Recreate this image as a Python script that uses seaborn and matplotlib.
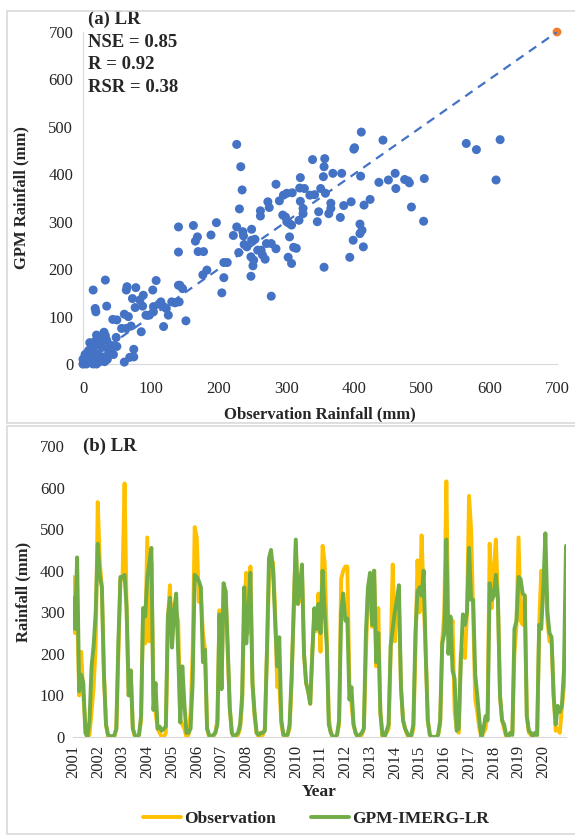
import matplotlib
matplotlib.use("Agg")
import pandas as pd
import seaborn as sns
import matplotlib.pyplot as plt
from matplotlib.patches import Rectangle
from matplotlib.lines import Line2D

# ---- scatter data: observation vs GPM (mm) ----
OBS_X = [
    411, 443, 566, 616, 581, 400, 401, 227, 233, 235, 339, 357, 356, 355, 369, 382,
    410, 461, 437, 451, 462, 475, 480, 482, 504, 610, 424, 396, 385, 415, 380, 485,
    503, 409, 412, 409, 399, 414, 394, 356, 346, 348, 363, 366, 366, 351, 358, 335,
    342, 321, 320, 327, 321, 325, 325, 319, 309, 301, 296, 290, 285, 273, 275, 262,
    262, 295, 299, 301, 304, 308, 305, 303, 308, 311, 315, 278, 285, 271, 263, 258,
    265, 269, 248, 252, 251, 248, 278, 249, 236, 237, 227, 222, 231, 238, 242, 249,
    254, 230, 208, 213, 208, 205, 197, 189, 163, 169, 166, 170, 178, 141, 141, 183,
    177, 131, 142, 136, 141, 143, 147, 152, 126, 123, 119, 112, 115, 108, 103, 104,
    104, 98, 93, 119, 89, 84, 88, 78, 73, 77, 65, 64, 61, 67, 71, 86,
    57, 64, 50, 44, 49, 50, 44, 33, 15, 18, 19, 35, 75, 75, 69, 61,
    31, 20,
    0, 2, 5, 3, 8, 10, 12, 15, 18, 20, 22, 25, 28, 30, 35, 38,
    40, 5, 0, 1, 15, 20, 25, 30, 10, 12, 33, 27, 22, 18, 40, 45,
    8, 6, 14, 3, 32, 36,
]
GPM_Y = [
    489, 472, 465, 473, 452, 453, 456, 463, 416, 367, 431, 433, 416, 395, 402, 402,
    396, 402, 383, 388, 370, 389, 386, 382, 391, 388, 347, 342, 334, 335, 309, 331,
    301, 295, 282, 275, 261, 247, 225, 204, 300, 321, 317, 339, 328, 370, 360, 356,
    357, 393, 371, 370, 343, 328, 317, 303, 361, 360, 356, 344, 379, 342, 330, 323,
    312, 314, 310, 300, 297, 293, 268, 225, 212, 246, 244, 254, 243, 254, 240, 240,
    230, 221, 226, 219, 207, 185, 143, 284, 279, 270, 289, 271, 327, 252, 247, 261,
    263, 235, 214, 214, 182, 150, 298, 272, 292, 268, 259, 237, 237, 289, 236, 198,
    188, 131, 131, 129, 166, 166, 159, 91, 103, 117, 121, 126, 131, 176, 156, 121,
    110, 103, 103, 79, 145, 135, 122, 161, 138, 119, 163, 156, 105, 100, 80, 68,
    75, 75, 93, 94, 56, 37, 37, 177, 156, 117, 110, 122, 31, 15, 14, 4,
    67, 61,
    0, 5, 10, 20, 15, 5, 25, 30, 10, 40, 20, 45, 35, 15, 50, 25,
    40, 0, 10, 2, 0, 0, 5, 50, 45, 35, 60, 58, 55, 48, 30, 20,
    28, 18, 12, 8, 5, 10,
]
ONE_TO_ONE = [0, 700]

# ---- monthly series 2001-01 .. 2020-12 (mm) ----
YEARS = list(range(2001, 2021))
OBS_MONTHLY = [
    385, 250, 300, 100, 205, 100, 30, 0, 5, 60, 120, 220,      # 2001
    565, 420, 360, 150, 30, 0, 0, 0, 0, 20, 200, 380,          # 2002
    380, 610, 300, 100, 160, 20, 0, 0, 5, 40, 310, 225,        # 2003
    480, 230, 420, 100, 60, 20, 10, 0, 0, 10, 280, 365,        # 2004
    230, 320, 300, 280, 40, 30, 20, 0, 5, 60, 200, 505,        # 2005
    480, 325, 340, 250, 210, 20, 0, 0, 0, 10, 40, 305,         # 2006
    120, 360, 350, 200, 70, 10, 0, 0, 5, 20, 80, 300,          # 2007
    395, 250, 410, 130, 50, 10, 0, 0, 5, 20, 200, 380,         # 2008
    400, 420, 300, 120, 130, 30, 5, 0, 5, 20, 130, 320,        # 2009
    460, 320, 330, 400, 200, 130, 110, 80, 200, 300, 255, 345, # 2010
    205, 460, 420, 250, 50, 10, 0, 0, 5, 30, 380, 400,         # 2011
    410, 410, 130, 80, 30, 10, 0, 0, 5, 20, 200, 350,          # 2012
    380, 265, 400, 170, 310, 60, 0, 0, 10, 20, 200, 415,       # 2013
    230, 330, 320, 120, 40, 20, 5, 0, 0, 20, 200, 425,         # 2014
    300, 485, 330, 200, 40, 5, 0, 0, 0, 5, 30, 230,            # 2015
    300, 615, 250, 230, 280, 60, 20, 10, 200, 210, 190, 300,   # 2016
    580, 500, 300, 90, 60, 20, 0, 10, 20, 60, 465, 310,        # 2017
    400, 475, 330, 100, 40, 20, 0, 0, 10, 10, 200, 270,        # 2018
    480, 280, 270, 340, 50, 10, 5, 0, 10, 5, 270, 400,         # 2019
    350, 400, 280, 230, 230, 100, 15, 20, 10, 70, 120, 225,    # 2020
]
GPM_MONTHLY = [
    335, 260, 432, 110, 150, 130, 10, 0, 40, 170, 220, 300,    # 2001
    465, 390, 360, 150, 30, 5, 2, 2, 3, 20, 230, 385,          # 2002
    385, 390, 310, 100, 160, 20, 5, 0, 5, 50, 310, 290,        # 2003
    380, 420, 455, 65, 130, 20, 25, 15, 20, 25, 290, 335,      # 2004
    215, 300, 345, 200, 35, 170, 80, 10, 10, 20, 130, 390,     # 2005
    385, 375, 360, 180, 210, 20, 5, 0, 5, 10, 30, 295,         # 2006
    115, 370, 350, 220, 70, 10, 0, 5, 10, 30, 100, 360,        # 2007
    225, 300, 395, 130, 60, 10, 5, 10, 10, 15, 200, 430,       # 2008
    450, 400, 280, 170, 240, 40, 5, 5, 5, 30, 150, 300,        # 2009
    475, 320, 360, 415, 200, 130, 110, 80, 200, 310, 260, 320, # 2010
    250, 400, 300, 220, 30, 10, 0, 0, 5, 40, 300, 345,         # 2011
    280, 285, 90, 120, 30, 10, 0, 5, 10, 20, 250, 360,         # 2012
    395, 270, 400, 180, 250, 60, 5, 0, 15, 30, 220, 260,       # 2013
    300, 330, 365, 120, 40, 20, 10, 0, 5, 30, 250, 350,        # 2014
    360, 340, 400, 200, 40, 5, 0, 0, 0, 5, 40, 225,            # 2015
    250, 475, 200, 290, 160, 140, 15, 20, 180, 295, 270, 300,  # 2016
    455, 330, 330, 150, 100, 40, 0, 20, 50, 40, 370, 330,      # 2017
    340, 390, 330, 100, 40, 30, 5, 0, 10, 5, 260, 280,         # 2018
    385, 380, 345, 340, 50, 15, 10, 0, 10, 5, 270, 260,        # 2019
    360, 490, 300, 250, 240, 100, 30, 75, 60, 75, 160, 460,    # 2020
]
TICKS = [0, 100, 200, 300, 400, 500, 600, 700]

BLUE = '#4472C4'
ORANGE = '#ED7D31'
GOLD = '#FFC000'
GREEN = '#70AD47'
GRID = '#D9D9D9'

W, H = 575, 835


def box(l, t, r, b):
    # pixel box (top-left origin) -> figure fraction rect
    return [l / W, 1 - b / H, (r - l) / W, (b - t) / H]


sns.set_style("white")
plt.rcParams['font.family'] = ['Liberation Serif', 'DejaVu Serif']

fig = plt.figure(figsize=(W / 100, H / 100), dpi=100)

# light frames round both panels
for top, bot in [(11, 423), (426, 834)]:
    fig.patches.append(Rectangle((7 / W, 1 - bot / H), (W - 6) / W, (bot - top) / H,
                                 transform=fig.transFigure, fill=False,
                                 edgecolor=GRID, lw=1.2))

# ---- (a) scatter ----
ax1 = fig.add_axes(box(83, 32, 557, 364))
sns.scatterplot(x=ONE_TO_ONE, y=ONE_TO_ONE, color=ORANGE, s=40, edgecolor='none',
                ax=ax1, clip_on=False, zorder=2)
sns.scatterplot(x=OBS_X, y=GPM_Y, color=BLUE, s=42, edgecolor='none',
                ax=ax1, clip_on=False, zorder=3)
sns.lineplot(x=ONE_TO_ONE, y=ONE_TO_ONE, color=BLUE, lw=1.6, ax=ax1,
             linestyle=(0, (4, 3)), zorder=4)
ax1.set_xlim(0, 700)
ax1.set_ylim(0, 700)
ax1.set_xticks(TICKS)
ax1.set_yticks(TICKS)
ax1.tick_params(length=0, labelsize=12, pad=12)
ax1.tick_params(axis='y', pad=7)
for s in ['top', 'right']:
    ax1.spines[s].set_visible(False)
for s in ['left', 'bottom']:
    ax1.spines[s].set_color(GRID)
ax1.set_xlabel("Observation Rainfall (mm)", fontsize=12, fontweight='bold', labelpad=7)
ax1.set_ylabel("GPM Rainfall (mm)", fontsize=12, fontweight='bold', labelpad=14)
ax1.text(0.01, 1.065, "(a) LR\nNSE = 0.85\nR = 0.92\nRSR = 0.38", transform=ax1.transAxes,
         ha='left', va='top', fontsize=13.5, fontweight='bold', linespacing=1.45)

# ---- (b) time series ----
df = pd.DataFrame({
    'month': list(range(len(OBS_MONTHLY))) * 2,
    'rain': OBS_MONTHLY + GPM_MONTHLY,
    'series': ['Observation'] * len(OBS_MONTHLY) + ['GPM-IMERG-LR'] * len(GPM_MONTHLY),
})
ax2 = fig.add_axes(box(73, 446, 566, 737))
sns.lineplot(data=df, x='month', y='rain', hue='series',
             palette={'Observation': GOLD, 'GPM-IMERG-LR': GREEN},
             lw=2.8, ax=ax2, legend=False)
ax2.set_xlim(0, len(OBS_MONTHLY) - 1)
ax2.set_ylim(0, 700)
ax2.set_yticks(TICKS)
ax2.set_xticks([12 * i for i in range(len(YEARS))])
ax2.set_xticklabels([str(y) for y in YEARS], rotation=90)
ax2.tick_params(length=0, labelsize=12, pad=6)
for s in ['top', 'right', 'left']:
    ax2.spines[s].set_visible(False)
ax2.spines['bottom'].set_color(GRID)
ax2.set_xlabel("Year", fontsize=12.5, fontweight='bold', labelpad=4)
ax2.set_ylabel("Rainfall (mm)", fontsize=12, fontweight='bold', labelpad=6)
ax2.text(0.02, 1.0, "(b) LR", transform=ax2.transAxes, ha='left', va='center',
         fontsize=13.5, fontweight='bold')

handles = [Line2D([], [], color=GOLD, lw=2.8), Line2D([], [], color=GREEN, lw=2.8)]
fig.legend(handles, ['Observation', 'GPM-IMERG-LR'], loc='center',
           bbox_to_anchor=(316 / W, 1 - 819 / H), ncol=2, frameon=False,
           prop={'size': 12.5, 'weight': 'bold'}, handlelength=2.2, handletextpad=0.2,
           columnspacing=2.0)

fig.savefig("out.png", dpi=100)
